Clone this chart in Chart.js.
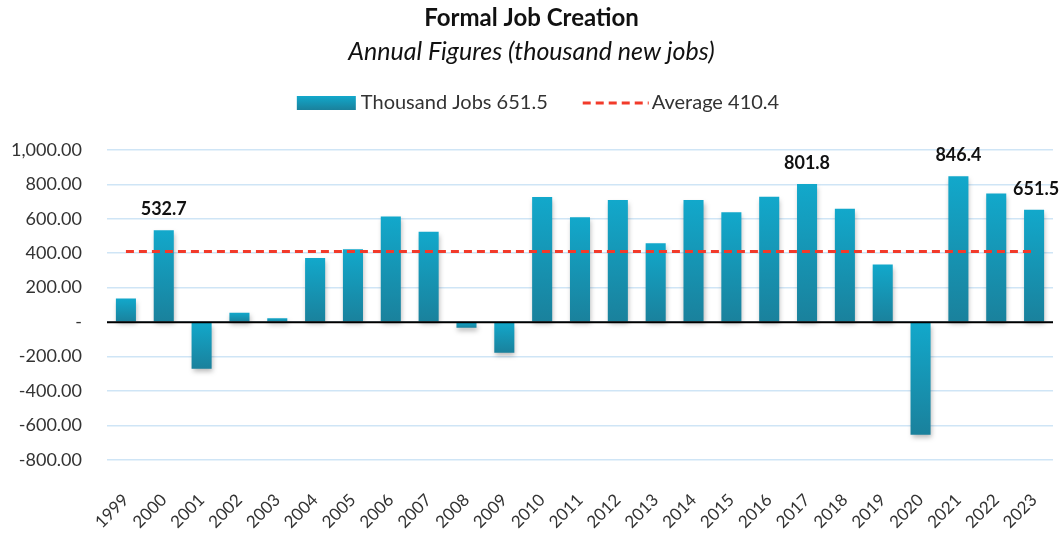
<!DOCTYPE html>
<html>
<head>
<meta charset="utf-8">
<script src="https://cdn.jsdelivr.net/npm/chart.js@4.4.1/dist/chart.umd.min.js"></script>
<style>
  html, body { margin: 0; padding: 0; background: #ffffff; }
  #wrap { width: 1060px; height: 535px; position: relative; }
</style>
</head>
<body>
<div id="wrap"><canvas id="c" width="1060" height="535"></canvas></div>
<script>
const years = ["1999","2000","2001","2002","2003","2004","2005","2006","2007","2008","2009","2010","2011","2012","2013","2014","2015","2016","2017","2018","2019","2020","2021","2022","2023"];
const thousandJobs = [137, 532.7, -270, 55, 23, 372, 423, 613, 524, -33, -178, 726, 608, 708, 458, 708, 638, 728, 801.8, 658, 334, -654, 846.4, 747, 651.5];
const averageValue = 410.4;
const averageLine = years.map(() => averageValue);
const shownLabels = [null, "532.7", null, null, null, null, null, null, null, null, null, null, null, null, null, null, null, null, "801.8", null, null, null, "846.4", null, "651.5"];
const yTicks = [1000, 800, 600, 400, 200, 0, -200, -400, -600, -800];
const legendBarText = "Thousand Jobs 651.5";
const legendLineText = "Average 410.4";

const FONT = "Lato, 'Open Sans', sans-serif";
const BAR_TOP = '#12a8cb';
const BAR_BOT = '#1a819c';
const RED = '#f23a2a';

function barFill(ctx) {
  const chart = ctx.chart;
  const area = chart.chartArea;
  if (!area || ctx.dataIndex === undefined) return '#169ab9';
  const ys = chart.scales.y;
  const v = thousandJobs[ctx.dataIndex];
  const p0 = ys.getPixelForValue(0);
  const p1 = ys.getPixelForValue(v);
  const top = Math.min(p0, p1), bot = Math.max(p0, p1);
  if (!isFinite(top) || bot - top < 1) return '#169ab9';
  const g = chart.ctx.createLinearGradient(0, top, 0, bot);
  g.addColorStop(0, BAR_TOP);
  g.addColorStop(1, BAR_BOT);
  return g;
}

const barShadow = {
  id: 'barShadow',
  beforeDatasetDraw(chart, args) {
    if (args.index !== 1) return;
    const c = chart.ctx;
    c.save();
    c.shadowColor = 'rgba(0,0,0,0.28)';
    c.shadowBlur = 5;
    c.shadowOffsetX = 1;
    c.shadowOffsetY = 3;
  },
  afterDatasetDraw(chart, args) {
    if (args.index !== 1) return;
    chart.ctx.restore();
  }
};

const valueLabels = {
  id: 'valueLabels',
  afterDatasetsDraw(chart) {
    const meta = chart.getDatasetMeta(1);
    const c = chart.ctx;
    c.save();
    c.font = "bold 18px " + FONT;
    c.fillStyle = '#111111';
    c.textAlign = 'center';
    c.textBaseline = 'middle';
    meta.data.forEach((bar, i) => {
      if (!shownLabels[i]) return;
      c.fillText(shownLabels[i], bar.x + (i === 24 ? 2 : 0), bar.y - 21);
    });
    c.restore();
  }
};

const zeroLine = {
  id: 'zeroLine',
  afterDatasetsDraw(chart) {
    const a = chart.chartArea;
    const y = chart.scales.y.getPixelForValue(0);
    const c = chart.ctx;
    c.save();
    c.strokeStyle = '#000000';
    c.lineWidth = 2;
    c.beginPath();
    c.moveTo(a.left, y);
    c.lineTo(a.right, y);
    c.stroke();
    c.restore();
  }
};

const customLegend = {
  id: 'customLegend',
  afterDraw(chart) {
    const c = chart.ctx;
    c.save();
    c.font = "20px " + FONT;
    c.textBaseline = 'middle';
    c.textAlign = 'left';
    const w1 = c.measureText(legendBarText).width;
    const w2 = c.measureText(legendLineText).width;
    const boxW = 59, gap = 5, itemGap = 35, lineW = 66, gap2 = 3;
    const total = boxW + gap + w1 + itemGap + lineW + gap2 + w2;
    const cy = 103;
    let x = 538 - total / 2;
    const g = c.createLinearGradient(0, cy - 7, 0, cy + 7);
    g.addColorStop(0, BAR_TOP);
    g.addColorStop(1, BAR_BOT);
    c.fillStyle = g;
    c.fillRect(x, cy - 7, boxW, 14);
    x += boxW + gap;
    c.fillStyle = '#333333';
    c.fillText(legendBarText, x, cy);
    x += w1 + itemGap;
    c.strokeStyle = RED;
    c.lineWidth = 3;
    c.setLineDash([8, 5]);
    c.beginPath();
    c.moveTo(x, cy);
    c.lineTo(x + lineW, cy);
    c.stroke();
    c.setLineDash([]);
    x += lineW + gap2;
    c.fillText(legendLineText, x, cy);
    c.restore();
  }
};

function build() {
  new Chart(document.getElementById('c'), {
    data: {
      labels: years,
      datasets: [
        {
          type: 'line',
          label: legendLineText,
          data: averageLine,
          borderColor: RED,
          backgroundColor: RED,
          borderWidth: 3,
          borderDash: [8, 5],
          pointRadius: 0,
          fill: false,
          order: 0
        },
        {
          type: 'bar',
          label: legendBarText,
          data: thousandJobs,
          backgroundColor: barFill,
          borderWidth: 0,
          barPercentage: 0.53,
          categoryPercentage: 1.0,
          order: 1
        }
      ]
    },
    options: {
      responsive: false,
      animation: false,
      layout: { padding: { left: 10, right: 7, top: 2, bottom: 0 } },
      plugins: {
        title: {
          display: true,
          text: 'Formal Job Creation',
          color: '#111111',
          font: { family: FONT, size: 24, weight: 'bold' },
          padding: { top: 2, bottom: 4 }
        },
        subtitle: {
          display: true,
          text: 'Annual Figures (thousand new jobs)',
          color: '#111111',
          font: { family: FONT, size: 25, style: 'italic' },
          padding: { top: 0, bottom: 83 }
        },
        legend: { display: false },
        tooltip: { enabled: false }
      },
      scales: {
        x: {
          grid: { display: false, drawTicks: false },
          border: { display: false },
          afterFit(scale) {
            scale.paddingLeft = 0;
            scale.paddingRight = 0;
            scale.height = 75;
          },
          ticks: {
            color: '#333333',
            font: { family: FONT, size: 17 },
            minRotation: 45,
            maxRotation: 45,
            padding: 30,
            autoSkip: false
          }
        },
        y: {
          min: -800,
          max: 1000,
          afterBuildTicks(scale) { scale.ticks = yTicks.map(v => ({ value: v })); },
          afterFit(scale) { scale.width = 97; },
          grid: { color: '#cfe5f6', lineWidth: 1.5, drawTicks: false },
          border: { display: false },
          ticks: {
            color: '#333333',
            font: { family: FONT, size: 18 },
            padding: 25,
            callback(v) {
              if (v === 0) return '-';
              return v.toLocaleString('en-US', { minimumFractionDigits: 2, maximumFractionDigits: 2 });
            }
          }
        }
      }
    },
    plugins: [barShadow, zeroLine, valueLabels, customLegend]
  });
}

if (document.fonts && document.fonts.load) {
  Promise.all([
    document.fonts.load("18px Lato"),
    document.fonts.load("bold 18px Lato"),
    document.fonts.load("italic 18px Lato")
  ]).then(build, build);
} else {
  build();
}
</script>
</body>
</html>
